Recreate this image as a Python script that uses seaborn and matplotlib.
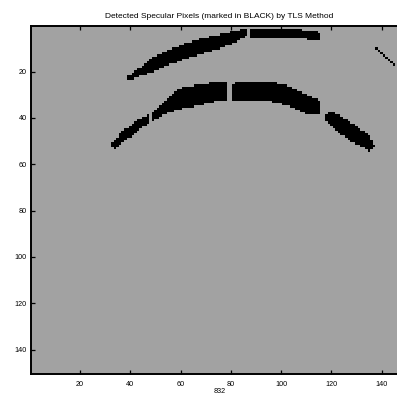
import numpy as np
import matplotlib
matplotlib.use("Agg")
import matplotlib.pyplot as plt
from matplotlib.path import Path
from matplotlib.colors import ListedColormap
import seaborn as sns

# Image grid (columns x rows), 1-based pixel coordinates
n_rows = 150
n_cols = 150

# Black (specular) regions as polygons: vertex columns / rows
arc_upper_left_col = [38.3, 43.9, 49.0, 55.8, 62.5, 69.7, 75.7, 81.6, 86.0,
                      86.0, 81.6, 75.7, 69.7, 62.5, 55.8, 49.0, 43.9, 39.1]
arc_upper_left_row = [22.7, 18.4, 13.7, 10.7, 7.6, 5.5, 4.2, 2.5, 1.6,
                      4.6, 7.2, 9.8, 11.9, 14.1, 16.7, 20.1, 21.8, 23.6]

arc_upper_right_col = [87.6, 95.6, 107.5, 115.5, 115.5, 107.5, 99.5, 87.6]
arc_upper_right_row = [2.05, 1.6, 2.05, 3.3, 6.3, 5.5, 5.1, 5.1]

arc_lower_a_col = [32.7, 35.9, 39.9, 43.9, 47.0, 47.8, 43.9, 39.9, 35.9, 33.5]
arc_lower_a_row = [51.5, 47.0, 43.4, 40.4, 38.6, 41.8, 44.6, 48.0, 51.0, 53.9]

arc_lower_b_col = [49.0, 53.8, 59.8, 67.7, 73.7, 78.5, 78.5, 73.7, 67.7, 59.8, 53.8, 49.0]
arc_lower_b_row = [37.8, 32.8, 27.3, 25.6, 24.8, 24.3, 31.9, 32.9, 34.3, 36.1, 38.2, 41.2]

arc_lower_c_col = [80.8, 87.6, 97.6, 103.5, 109.5, 115.5, 115.5, 109.5, 103.5, 97.6, 87.6, 80.8]
arc_lower_c_row = [25.2, 24.3, 24.8, 26.5, 29.5, 32.5, 38.5, 38.0, 35.0, 32.9, 32.5, 32.5]

arc_lower_d_col = [117.4, 120.6, 128.6, 135.3, 137.3, 135.3, 128.6, 122.2, 117.4]
arc_lower_d_row = [38.4, 37.4, 42.6, 47.8, 52.4, 54.0, 50.5, 45.4, 41.0]

streak_col = [138, 139, 140, 141, 142, 143, 144, 145]
streak_row = [10, 11, 12, 13, 14, 15, 16, 17]

x_ticks = [20, 40, 60, 80, 100, 120, 140]
y_ticks = [20, 40, 60, 80, 100, 120, 140]

title = "Detected Specular Pixels (marked in BLACK) by TLS Method"
xlabel = "832"

# Build mask from polygons
mask = np.zeros((n_rows, n_cols), dtype=int)
cc, rr = np.meshgrid(np.arange(1, n_cols + 1), np.arange(1, n_rows + 1))
pts = np.column_stack([cc.ravel(), rr.ravel()])
polys = [
    (arc_upper_left_col, arc_upper_left_row),
    (arc_upper_right_col, arc_upper_right_row),
    (arc_lower_a_col, arc_lower_a_row),
    (arc_lower_b_col, arc_lower_b_row),
    (arc_lower_c_col, arc_lower_c_row),
    (arc_lower_d_col, arc_lower_d_row),
]
for pc, pr in polys:
    path = Path(np.column_stack([pc, pr]))
    inside = path.contains_points(pts, radius=0.3).reshape(n_rows, n_cols)
    mask[inside] = 1
for c, r in zip(streak_col, streak_row):
    mask[r - 1, c - 1] = 1

plt.rcParams['font.family'] = ['Liberation Sans', 'DejaVu Sans']
fig = plt.figure(figsize=(3.97, 3.97), dpi=100)
ax = fig.add_axes([31 / 397, 23 / 397, 377 / 397, 347.6 / 397])

cmap = ListedColormap(['#a2a2a2', '#000000'])
sns.heatmap(mask, ax=ax, cmap=cmap, cbar=False, vmin=0, vmax=1,
            xticklabels=False, yticklabels=False)

ax.set_xticks([t - 0.5 for t in x_ticks])
ax.set_xticklabels([str(t) for t in x_ticks], rotation=0)
ax.set_yticks([t - 0.5 for t in y_ticks])
ax.set_yticklabels([str(t) for t in y_ticks], rotation=0)
ax.tick_params(direction='in', length=3, width=0.9, labelsize=5.2,
               top=True, right=True, bottom=True, left=True, colors='black')
ax.tick_params(axis='x', pad=5)
ax.tick_params(axis='y', pad=3)
for s in ax.spines.values():
    s.set_visible(True)
    s.set_linewidth(1.4)
    s.set_color('black')

ax.set_title(title, fontsize=6.0, pad=6)
ax.set_xlabel(xlabel, fontsize=5.2, labelpad=0)

fig.savefig("out.png", dpi=100)
